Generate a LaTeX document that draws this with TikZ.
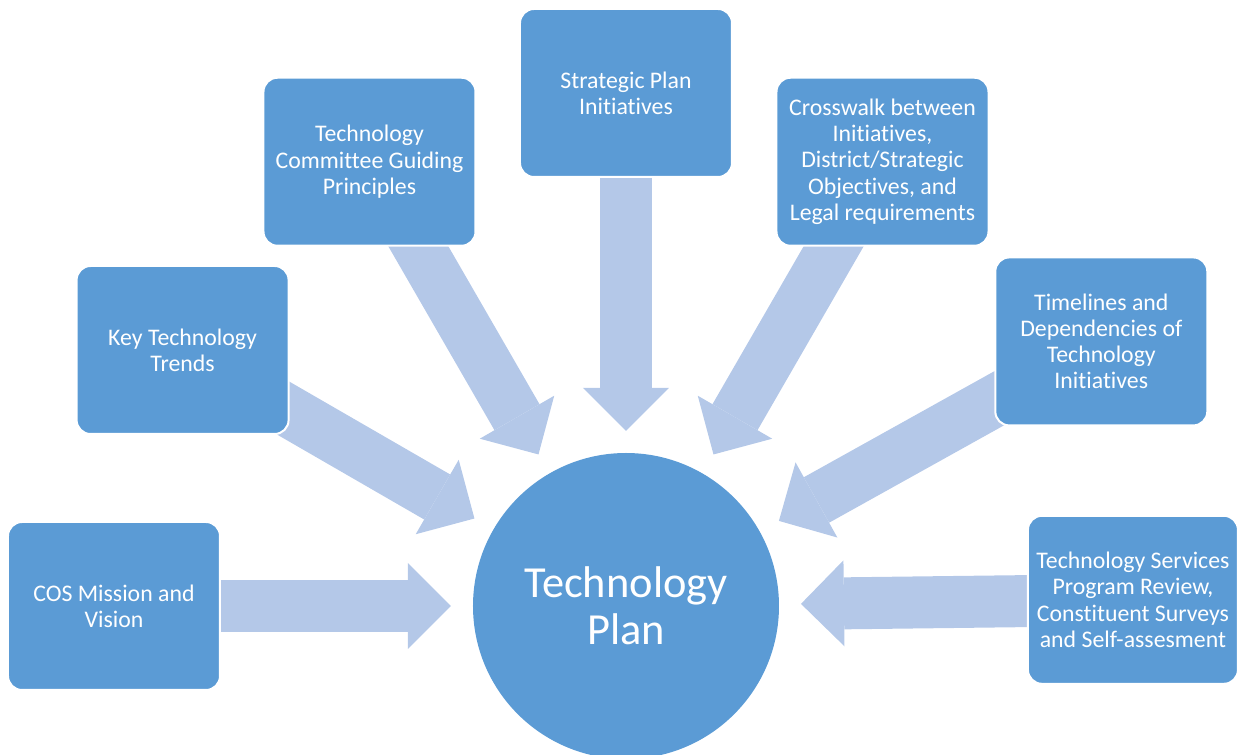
\documentclass[tikz,border=0pt]{standalone}
\usepackage{fontspec}
\setmainfont[Ligatures={NoCommon,NoRequired,NoContextual,NoRare},
  Contextuals=NoAlternate,RawFeature={-ccmp}]{Carlito}
\usetikzlibrary{arrows.meta,backgrounds}

\definecolor{planblue}{HTML}{5B9BD5}
\definecolor{feedblue}{HTML}{B4C8E8}

\begin{document}
\begin{tikzpicture}[
  x=0.5pt,y=0.5pt,
  box/.style={draw=white,line width=1pt,rounded corners=7pt,fill=planblue,
    text=white,minimum width=106pt,minimum height=84pt,inner sep=2pt,
    align=center,font=\fontsize{11.9}{13.1}\selectfont},
  plan/.style={circle,fill=planblue,text=white,minimum size=153pt,
    inner sep=0pt,outer sep=0pt,align=center,
    font=\fontsize{22.2}{23.5}\selectfont},
  feed/.style={draw=feedblue,line width=26pt,shorten >=11pt,
    -{Triangle[length=21.5pt,width=43pt,line width=0pt]}}
]
  \useasboundingbox (-626,-149) rectangle (612,606);

  \node[plan] (tp) at (0,0) {Technology\\Plan};

  \node[box] (mission)  at (180:512) {COS Mission and\\Vision};
  \node[box] (trends)   at (150:512) {Key Technology\\Trends};
  \node[box] (guiding)  at (120:513) {Technology\\Committee Guiding\\Principles};
  \node[box] (strategy) at (90:513)  {Strategic Plan\\Initiatives};
  \node[box] (crosswalk) at (60:513) {Crosswalk between\\Initiatives,\\District/Strategic\\Objectives, and\\Legal requirements};
  \node[box] (timeline) at (29.1:544) {Timelines and\\Dependencies of\\Technology\\Initiatives};
  \node[box,minimum width=105pt] (review) at (0.7:507) {Technology Services\\Program Review,\\Constituent Surveys\\and Self-assesment};

  \begin{pgfonlayer}{background}
    \foreach \src in {mission,trends,guiding,strategy,crosswalk,timeline,review}
      \draw[feed] (\src.center) -- (tp);
  \end{pgfonlayer}
\end{tikzpicture}
\end{document}
